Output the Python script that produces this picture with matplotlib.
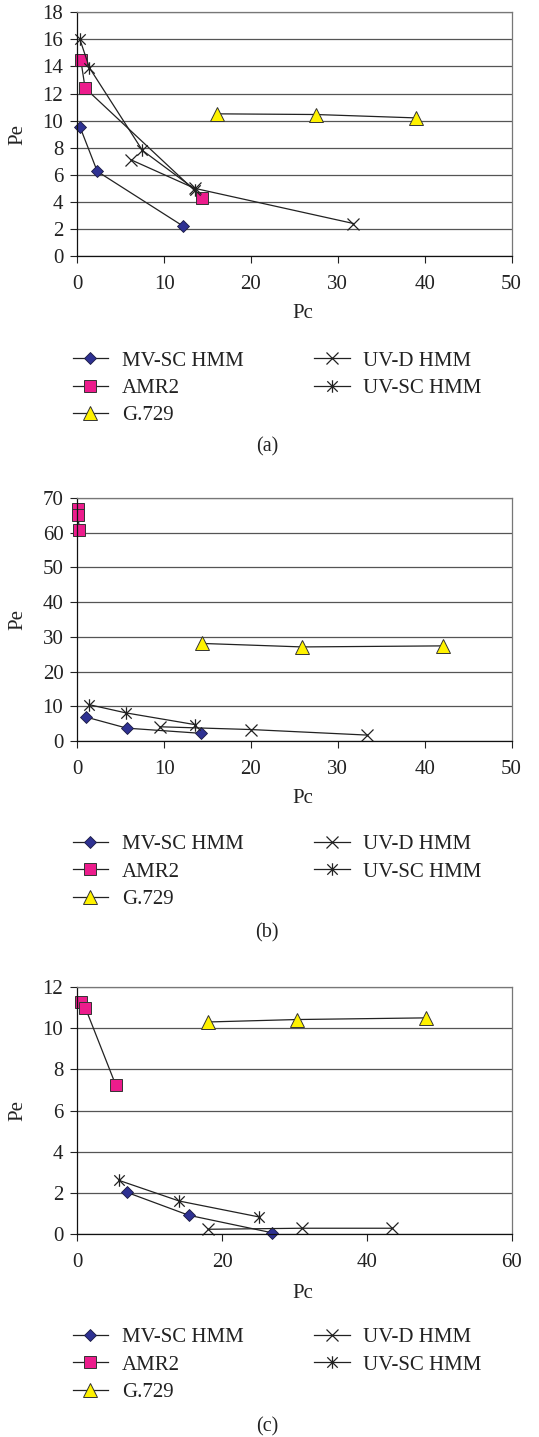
import matplotlib
matplotlib.use('Agg')
import matplotlib.pyplot as plt
from matplotlib.path import Path

plt.rcParams['font.family'] = ['Liberation Serif', 'DejaVu Serif']

# nomes das series
series = ['MV-SC HMM', 'AMR2', 'G.729', 'UV-D HMM', 'UV-SC HMM']

# painel (a)
a_mv_x = [0.3, 2.3, 12.2]
a_mv_y = [9.55, 6.25, 2.2]
a_amr_x = [0.4, 0.9, 14.4]
a_amr_y = [14.5, 12.4, 4.3]
a_g_x = [16.1, 27.5, 39.0]
a_g_y = [10.5, 10.45, 10.2]
a_uvd_x = [6.2, 13.5, 31.8]
a_uvd_y = [7.1, 5.0, 2.4]
a_uvsc_x = [0.3, 1.4, 7.5, 13.6]
a_uvsc_y = [16.0, 13.9, 7.8, 4.9]

# painel (b)
b_mv_x = [1.0, 5.7, 14.3]
b_mv_y = [6.9, 3.7, 2.2]
b_amr_x = [0.05, 0.05, 0.25]
b_amr_y = [66.8, 65.2, 60.9]
b_g_x = [14.4, 25.9, 42.1]
b_g_y = [28.1, 27.1, 27.4]
b_uvd_x = [9.5, 20.0, 33.4]
b_uvd_y = [4.1, 3.3, 1.7]
b_uvsc_x = [1.3, 5.6, 13.6]
b_uvsc_y = [10.5, 8.1, 4.7]

# painel (c)
c_mv_x = [6.8, 15.4, 26.9]
c_mv_y = [2.03, 0.91, 0.06]
c_amr_x = [0.5, 1.1, 5.3]
c_amr_y = [11.25, 11.0, 7.25]
c_g_x = [18.0, 30.4, 48.2]
c_g_y = [10.3, 10.42, 10.5]
c_uvd_x = [18.1, 31.0, 43.5]
c_uvd_y = [0.23, 0.28, 0.28]
c_uvsc_x = [5.8, 14.1, 25.1]
c_uvsc_y = [2.6, 1.6, 0.83]

paineis = [
    dict(dados=[(a_mv_x, a_mv_y), (a_amr_x, a_amr_y), (a_g_x, a_g_y), (a_uvd_x, a_uvd_y), (a_uvsc_x, a_uvsc_y)],
         xlim=50, xstep=10, ylim=18, ystep=2, rotulo='(a)'),
    dict(dados=[(b_mv_x, b_mv_y), (b_amr_x, b_amr_y), (b_g_x, b_g_y), (b_uvd_x, b_uvd_y), (b_uvsc_x, b_uvsc_y)],
         xlim=50, xstep=10, ylim=70, ystep=10, rotulo='(b)'),
    dict(dados=[(c_mv_x, c_mv_y), (c_amr_x, c_amr_y), (c_g_x, c_g_y), (c_uvd_x, c_uvd_y), (c_uvsc_x, c_uvsc_y)],
         xlim=60, xstep=20, ylim=12, ystep=2, rotulo='(c)'),
]

# asterisco estilo Excel (X com traco vertical)
asterisco = Path([(-1, -1), (1, 1), (-1, 1), (1, -1), (0, -1.2), (0, 1.2)],
                 [Path.MOVETO, Path.LINETO, Path.MOVETO, Path.LINETO, Path.MOVETO, Path.LINETO])

estilos = [
    dict(marker='D', markersize=6.2, markerfacecolor='#2e3192', markeredgecolor='#1a1a40', markeredgewidth=0.6),
    dict(marker='s', markersize=8.2, markerfacecolor='#ec1c8c', markeredgecolor='#333333', markeredgewidth=0.7),
    dict(marker='^', markersize=9.8, markerfacecolor='#fff200', markeredgecolor='#333333', markeredgewidth=0.7),
    dict(marker='x', markersize=8.5, markeredgecolor='#222222', markeredgewidth=0.9),
    dict(marker=asterisco, markersize=9, markeredgecolor='#222222', markeredgewidth=0.9),
]

W, H = 539, 1437
fig = plt.figure(figsize=(W / 100, H / 100), dpi=100)

# posicoes em pixels: (topo, base) de cada eixo, y do Pc, linha do meio da legenda, rotulo
caixas = [(12.3, 256, 314, 388, 447), (498, 741, 799, 872, 933), (987, 1234, 1293, 1365, 1427)]
esq, dir_ = 77.3, 511.5
fs = 15

for p, (topo, base, ypc, yleg, yrot) in zip(paineis, caixas):
    ax = fig.add_axes([esq / W, 1 - base / H, (dir_ - esq) / W, (base - topo) / H])
    for (x, y), nome, est in zip(p['dados'], series, estilos):
        ax.plot(x, y, color='#222222', linewidth=0.9, label=nome, **est, clip_on=False)
    ax.set_xlim(0, p['xlim'])
    ax.set_ylim(0, p['ylim'])
    ax.set_xticks(range(0, p['xlim'] + 1, p['xstep']))
    ax.set_yticks(range(0, p['ylim'] + 1, p['ystep']))
    ax.yaxis.grid(True, color='#555555', linewidth=0.9)
    ax.set_axisbelow(True)
    ax.tick_params(direction='out', length=5, width=0.8, labelsize=fs, colors='#222222')
    ax.tick_params(axis='y', pad=5)
    ax.tick_params(axis='x', pad=9)
    for lado in ['left', 'bottom']:
        ax.spines[lado].set_color('#111111')
        ax.spines[lado].set_linewidth(0.9)
    for lado in ['right', 'top']:
        ax.spines[lado].set_color('#777777')
        ax.spines[lado].set_linewidth(0.9)
    fig.text(18 / W, 1 - (topo + base) / 2 / H, 'Pe', rotation=90, ha='center', va='center',
             fontsize=fs, color='#222222')
    fig.text(303 / W, 1 - ypc / H, 'Pc', ha='center', va='center', fontsize=fs, color='#222222')
    ax.legend(loc='center left', bbox_to_anchor=(72.7 / W, 1 - yleg / H), bbox_transform=fig.transFigure,
              ncol=2, frameon=False, borderpad=0, borderaxespad=0, fontsize=fs, handlelength=1.7,
              handletextpad=0.65, columnspacing=3.4, labelspacing=0.37, labelcolor='#222222')
    fig.text(267 / W, 1 - yrot / H, p['rotulo'], ha='center', va='center', fontsize=fs - 0.5, color='#222222')

fig.savefig('out.png', dpi=100)
